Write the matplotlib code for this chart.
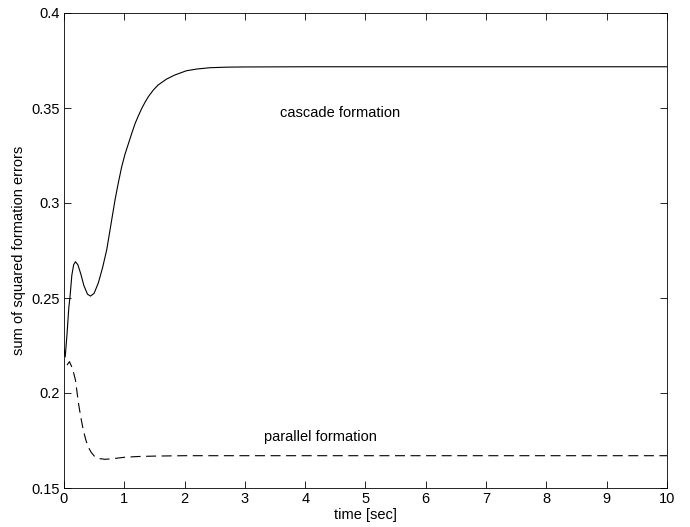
import matplotlib
matplotlib.use("Agg")
import matplotlib.pyplot as plt
from matplotlib.ticker import FuncFormatter

plt.rcParams['font.family'] = ['Liberation Sans', 'DejaVu Sans']

# cascade formation (solid)
t_cascade = [0.0, 0.02, 0.05, 0.08, 0.10, 0.13, 0.16, 0.19, 0.23, 0.28, 0.33, 0.39, 0.44, 0.50,
             0.57, 0.64, 0.708, 0.78, 0.846, 0.90, 0.957, 1.01, 1.07, 1.125, 1.18, 1.235, 1.29, 1.345,
             1.40, 1.48, 1.56, 1.70, 1.84, 2.03, 2.2, 2.42, 2.7, 3.0, 4.0, 5.0, 6.0, 7.0, 8.0, 9.0, 10.0]
y_cascade = [0.223, 0.219, 0.231, 0.245, 0.2507, 0.262, 0.2675, 0.2691, 0.2675, 0.2625, 0.2565, 0.2520, 0.2510, 0.2525,
             0.2580, 0.2660, 0.2753, 0.2890, 0.3016, 0.3105, 0.3191, 0.3255, 0.3314, 0.3368, 0.3419, 0.3460, 0.3498, 0.3531,
             0.3560, 0.3594, 0.3621, 0.3652, 0.3674, 0.3696, 0.3705, 0.3712, 0.3715, 0.3716, 0.3717, 0.3717, 0.3717,
             0.3717, 0.3717, 0.3717, 0.3717]

# parallel formation (dashed)
t_parallel = [0.05, 0.09, 0.14, 0.19, 0.24, 0.28, 0.32, 0.36, 0.40, 0.45, 0.51, 0.58, 0.68, 0.80, 1.01,
              1.25, 1.51, 2.0, 3.0, 4.0, 5.0, 6.0, 7.0, 8.0, 9.0, 10.0]
y_parallel = [0.2147, 0.2165, 0.2130, 0.2068, 0.1946, 0.1870, 0.1805, 0.1755, 0.1717, 0.1688, 0.1665, 0.1655, 0.1651, 0.1654, 0.1662,
              0.1666, 0.1668, 0.1670, 0.1670, 0.1670, 0.1670, 0.1670, 0.1670, 0.1670, 0.1670, 0.1670]

x_ticks = [0, 1, 2, 3, 4, 5, 6, 7, 8, 9, 10]
y_ticks = [0.15, 0.2, 0.25, 0.3, 0.35, 0.4]

fig = plt.figure(figsize=(6.9, 5.27), dpi=100)
ax = fig.add_axes([64/690, 39/527, 603/690, 475/527])

ax.plot(t_cascade, y_cascade, color='black', lw=0.8)
ax.plot(t_parallel, y_parallel, color='black', lw=0.8, dashes=(9, 5))

ax.set_xlim(0, 10)
ax.set_ylim(0.15, 0.4)
ax.set_xticks(x_ticks)
ax.set_yticks(y_ticks)
ax.yaxis.set_major_formatter(FuncFormatter(lambda v, p: '%g' % v))
ax.tick_params(direction='in', top=True, right=True, length=5, width=0.6, labelsize=10.5, pad=3)
for s in ax.spines.values():
    s.set_linewidth(0.6)

ax.set_xlabel('time [sec]', fontsize=10.5, labelpad=1)
ax.set_ylabel('sum of squared formation errors', fontsize=10.5, labelpad=4)

ax.text(4.58, 0.3472, 'cascade formation', fontsize=10.5, ha='center', va='center')
ax.text(4.26, 0.1768, 'parallel formation', fontsize=10.5, ha='center', va='center')

fig.savefig('out.png', dpi=100)
